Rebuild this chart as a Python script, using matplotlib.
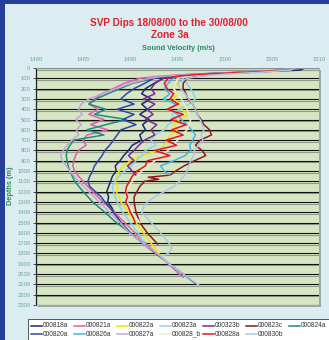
import matplotlib
matplotlib.use("Agg")
import matplotlib.pyplot as plt
import matplotlib.patheffects as pe
from matplotlib.patches import Rectangle
from matplotlib.lines import Line2D

plt.rcParams['font.family'] = ['Liberation Sans', 'DejaVu Sans']

# ---------------- data ----------------
names = ["000818a", "000821a", "000822a", "000823a", "000323b", "000823c", "000824a",
         "000820a", "000826a", "000827a", "000828_b", "000828a", "000830b"]
colors = ["#1c2772", "#de5fae", "#f2e400", "#8fd2e8", "#7a2b8e", "#8e1a1f", "#1a8c82",
          "#2d47a8", "#3fb6e8", "#c9a3d8", "#e9efcf", "#e8151f", "#a9c9ea"]

d_818a = [0, 20, 40, 60, 80, 100, 150, 200, 250, 300, 350, 400, 450, 500, 550, 600, 650, 700,
          750, 800, 850, 900, 950, 1000, 1050, 1100, 1150, 1200, 1250, 1300, 1350, 1400,
          1500, 1600, 1700, 1800, 1900, 2000, 2090]
v_818a = [1508.5, 1508, 1503, 1498, 1495, 1493.5, 1492.5, 1491.6, 1491.2, 1492.2, 1491.2, 1491.8,
          1491.0, 1492.0, 1491.3, 1491.6, 1491.0, 1491.2, 1490.2, 1489.8, 1489.3, 1488.9, 1488.4,
          1488.5, 1488.1, 1487.9, 1487.7, 1487.5, 1487.7, 1487.6, 1488.0, 1488.3,
          1489.0, 1490.0, 1491.3, 1492.7, 1494.1, 1495.6, 1496.9]

d_821a = [0, 20, 40, 60, 80, 100, 150, 200, 250, 300, 350, 400, 450, 500, 550, 600, 650, 700,
          750, 800, 850, 900, 950, 1000, 1050, 1100, 1200, 1300, 1400, 1500, 1600, 1700, 1800,
          1900, 2000, 2030]
v_821a = [1507, 1506.3, 1502, 1496.5, 1493, 1491, 1489.3, 1488.2, 1487, 1486.2, 1485.6, 1486.6,
          1485.6, 1487.2, 1485.8, 1487.6, 1485.4, 1485.0, 1485.3, 1484.5, 1484.2, 1484.0, 1483.9,
          1484.1, 1484.5, 1485.0, 1486.0, 1487.1, 1488.3, 1489.4, 1490.5, 1491.6, 1492.8,
          1494.0, 1495.2, 1495.6]

d_822a = [0, 20, 40, 60, 80, 100, 150, 200, 250, 300, 350, 400, 450, 500, 550, 600, 650, 700,
          750, 800, 850, 900, 950, 1000, 1050, 1100, 1150, 1200, 1250, 1300,
          1400, 1500, 1600, 1700, 1800, 1880]
v_822a = [1507, 1506.2, 1502.5, 1497.5, 1495.5, 1495.0, 1495.0, 1494.6, 1495.0, 1494.6, 1495.2,
          1495.4, 1496.2, 1495.2, 1494.6, 1495.0, 1494.2, 1494.0, 1493.6, 1493.0, 1491.2, 1490.0,
          1489.3, 1488.8, 1488.6, 1488.4, 1488.7, 1488.5, 1488.8, 1489.0,
          1489.8, 1490.6, 1491.4, 1492.2, 1493.0, 1493.8]

d_823a = [0, 20, 40, 60, 80, 100, 150, 200, 250, 300, 350, 400, 450, 500, 550, 600, 650, 700,
          750, 800, 850, 900, 950, 1000, 1050, 1100, 1150, 1200, 1300, 1400, 1500, 1600, 1700]
v_823a = [1507, 1506.2, 1503, 1498, 1496, 1495.5, 1496.0, 1496.4, 1496.7, 1496.9, 1496.2, 1495.2,
          1494.4, 1494.9, 1494.0, 1493.6, 1492.6, 1492.2, 1492.7, 1491.6, 1491.2, 1490.6, 1490.1,
          1489.4, 1488.8, 1488.4, 1488.1, 1488.2, 1488.6, 1489.2, 1490.0, 1490.8, 1491.5]

d_323b = [0, 20, 40, 60, 80, 100, 150, 200, 250, 300, 350, 400, 450, 500, 550, 600, 650, 700,
          750, 800, 850, 900, 950, 1000, 1040]
v_323b = [1507, 1506.5, 1503, 1498, 1495, 1493.5, 1492.6, 1492.2, 1492.6, 1491.4, 1492.6, 1491.8,
          1492.4, 1491.6, 1492.8, 1492.2, 1492.6, 1491.5, 1490.9, 1490.4, 1489.8, 1490.4, 1489.7,
          1490.2, 1490.6]

d_823c = [0, 20, 40, 60, 80, 100, 150, 200, 250, 300, 350, 400, 450, 500, 550, 600, 650, 700,
          750, 800, 850, 900, 950, 1000, 1040, 1060, 1080, 1100, 1150, 1200, 1250, 1300, 1400,
          1500, 1600, 1650, 1710]
v_823c = [1507, 1506.5, 1503, 1499, 1497, 1496, 1495.6, 1495.6, 1495.9, 1496.1, 1496.6, 1496.9,
          1497.1, 1497.5, 1497.8, 1498.4, 1498.6, 1497.4, 1496.9, 1497.6, 1498.0, 1496.8, 1495.7,
          1494.8, 1494.2, 1491.9, 1493.0, 1491.5, 1491.0, 1490.7, 1490.4, 1490.4, 1490.6,
          1491.0, 1491.8, 1492.3, 1492.9]

d_824a = [0, 20, 40, 60, 80, 100, 150, 200, 250, 300, 350, 400, 450, 500, 550, 600, 650, 700,
          750, 800, 850, 900, 950, 1000, 1100, 1200, 1300, 1400, 1500, 1600, 1670]
v_824a = [1507, 1506.5, 1502, 1497, 1494, 1492.5, 1490.2, 1488.9, 1487.6, 1486.4, 1485.6, 1487.4,
          1486.2, 1489.6, 1487.4, 1485.4, 1487.2, 1484.0, 1483.6, 1483.3, 1483.2, 1483.3, 1483.4,
          1483.6, 1484.1, 1485.0, 1486.0, 1487.3, 1488.5, 1490.0, 1490.9]

d_820a = [0, 20, 40, 60, 80, 100, 150, 200, 250, 300, 350, 400, 450, 500, 550, 600, 650, 700,
          750, 800, 850, 900, 950, 1000, 1050, 1100, 1150, 1200, 1250, 1300, 1350, 1400,
          1500, 1600]
v_820a = [1507, 1506.5, 1502.5, 1497, 1494, 1492.5, 1491.5, 1490.4, 1489.6, 1489.0, 1490.4, 1488.6,
          1490.4, 1489.2, 1490.6, 1489.0, 1488.6, 1488.2, 1487.8, 1487.3, 1487.0, 1486.6, 1486.2,
          1486.0, 1485.7, 1485.5, 1485.7, 1486.3, 1486.9, 1487.3, 1487.8, 1488.2,
          1489.0, 1490.0]

d_826a = [0, 20, 40, 60, 80, 100, 150, 200, 250, 300, 350, 400, 450, 500, 550, 600, 650, 700,
          750, 800, 850, 900, 950, 1000, 1040]
v_826a = [1507, 1506.5, 1503, 1498, 1495.5, 1494.5, 1494.0, 1493.6, 1494.2, 1493.5, 1494.8, 1494.2,
          1495.0, 1495.4, 1496.0, 1496.5, 1496.9, 1496.6, 1496.3, 1496.4, 1495.8, 1494.6, 1493.2,
          1493.6, 1494.2]

d_827a = [0, 20, 40, 60, 80, 100, 150, 200, 250, 300, 350, 400, 450, 500, 550, 600, 650, 700,
          750, 800, 850, 900, 950, 1000, 1100, 1200, 1300, 1400, 1500, 1600, 1700, 1800, 1860]
v_827a = [1507, 1506, 1502, 1496.5, 1493.5, 1492, 1490.0, 1488.5, 1487.0, 1485.6, 1484.8, 1484.5,
          1484.9, 1484.2, 1484.8, 1484.3, 1484.5, 1483.8, 1483.3, 1482.9, 1482.6, 1482.8, 1483.2,
          1483.6, 1484.5, 1485.6, 1486.7, 1487.8, 1488.9, 1489.9, 1491.3, 1492.8, 1493.7]

d_828b = [0, 20, 40, 60, 80, 100, 200, 300, 400, 500, 600, 700, 800, 900, 1000, 1100, 1200,
          1300, 1400, 1500]
v_828b = [1507, 1506.3, 1502.8, 1498, 1496, 1495, 1494.6, 1495.4, 1496.0, 1496.4, 1496.0, 1495.0,
          1494.0, 1492.6, 1491.2, 1490.2, 1489.6, 1489.7, 1490.2, 1491.0]

d_828a = [0, 20, 40, 60, 80, 100, 150, 200, 250, 300, 350, 400, 450, 500, 550, 600, 650, 700,
          750, 800, 850, 900, 950, 1000, 1050, 1100, 1150, 1200, 1250, 1300, 1350, 1400, 1450, 1500]
v_828a = [1507, 1506.5, 1502.5, 1497.5, 1495, 1494, 1493.6, 1493.9, 1494.6, 1494.2, 1495.1, 1493.9,
          1495.6, 1494.3, 1495.9, 1494.4, 1495.6, 1493.8, 1494.9, 1492.6, 1494.2, 1491.8, 1491.6,
          1490.7, 1490.2, 1489.9, 1489.6, 1489.5, 1489.7, 1489.5, 1489.8, 1490.0, 1490.3, 1490.5]

d_830b = [0, 20, 40, 60, 80, 100, 150, 200, 250, 300, 350, 400, 450, 500, 550, 600, 650, 700,
          750, 800, 850, 900, 950, 1000, 1050, 1100, 1150, 1200, 1250, 1300, 1350, 1400,
          1500, 1600, 1700, 1750, 1800, 1830, 1880, 1900, 2000, 2110]
v_830b = [1507.5, 1507, 1504, 1500, 1497.5, 1496, 1495.0, 1495.3, 1495.8, 1496.2, 1496.6, 1496.9,
          1497.1, 1497.4, 1497.6, 1497.8, 1497.5, 1497.7, 1497.2, 1496.8, 1496.7, 1496.4, 1496.2,
          1496.0, 1495.7, 1495.2, 1494.6, 1493.6, 1492.6, 1491.8, 1491.4, 1491.2,
          1492.2, 1493.2, 1494.1, 1494.4, 1494.0, 1493.3, 1493.8, 1494.1, 1495.6, 1497.3]

depths = [d_818a, d_821a, d_822a, d_823a, d_323b, d_823c, d_824a,
          d_820a, d_826a, d_827a, d_828b, d_828a, d_830b]
velocities = [v_818a, v_821a, v_822a, v_823a, v_323b, v_823c, v_824a,
              v_820a, v_826a, v_827a, v_828b, v_828a, v_830b]

x_ticks = [1480, 1485, 1490, 1495, 1500, 1505, 1510]
y_ticks = [0, 100, 200, 300, 400, 500, 600, 700, 800, 900, 1000, 1100, 1200, 1300, 1400,
           1500, 1600, 1700, 1800, 1900, 2000, 2100, 2200, 2300]

title1 = "SVP Dips 18/08/00 to the 30/08/00"
title2 = "Zone 3a"
xlabel = "Sound Velocity (m/s)"
ylabel = "Depths (m)"

# ---------------- figure ----------------
W, H = 329, 340
fig = plt.figure(figsize=(W / 100, H / 100), dpi=100)
fig.patch.set_facecolor("#dcedf2")

def fx(px):
    return px / W

def fy(py):
    return 1 - py / H

# slide border strips
fig.patches.append(Rectangle((0, 0), fx(5), 1, transform=fig.transFigure,
                             facecolor="#26409a", edgecolor="none", zorder=0))
fig.patches.append(Rectangle((0, fy(4)), 1, 4 / H, transform=fig.transFigure,
                             facecolor="#26409a", edgecolor="none", zorder=0))

ax_l, ax_r, ax_t, ax_b = 36, 319, 68, 305
# shadow behind the plot area
fig.patches.append(Rectangle((fx(ax_l + 2), fy(ax_b + 2)), (ax_r - ax_l) / W, (ax_b - ax_t) / H,
                             transform=fig.transFigure, facecolor="#9aa8a8",
                             edgecolor="none", zorder=0.5))

ax = fig.add_axes([fx(ax_l), fy(ax_b), (ax_r - ax_l) / W, (ax_b - ax_t) / H])
ax.set_zorder(2)
ax.set_facecolor("#d7e6c2")
ax.set_xlim(1480, 1510)
ax.set_ylim(2300, 0)

for d, v, c in zip(depths, velocities, colors):
    ax.plot(v, d, color=c, lw=1.1, solid_joinstyle="round")

ax.set_yticks(y_ticks)
ax.set_yticklabels([str(t) for t in y_ticks])
ax.set_xticks(x_ticks)
ax.set_xticklabels([str(t) for t in x_ticks])
ax.xaxis.tick_top()
ax.tick_params(axis="x", length=0, pad=4, labelsize=4.2, labelcolor="#6aa98c")
ax.tick_params(axis="y", length=2.5, width=0.6, pad=1.5, labelsize=4.2,
               labelcolor="#6aa98c", color="#333333")

ax.grid(axis="y", color="#111111", lw=0.8)
ax.set_axisbelow(True)
for gl in ax.get_ygridlines():
    gl.set_path_effects([pe.SimpleLineShadow(offset=(0, -1.2), shadow_color="#777777", alpha=0.7),
                         pe.Normal()])

for s in ["top", "right", "bottom"]:
    ax.spines[s].set_color("#9aa8a8")
    ax.spines[s].set_linewidth(0.6)
ax.spines["left"].set_color("#222222")
ax.spines["left"].set_linewidth(0.9)

# titles
fig.text(fx(169), fy(23), title1, ha="center", va="center", color="#e0202c",
         fontsize=7.2, fontweight="bold")
fig.text(fx(170), fy(35.5), title2, ha="center", va="center", color="#e0202c",
         fontsize=7.2, fontweight="bold")
fig.text(fx(178), fy(48), xlabel, ha="center", va="center", color="#2e8a5a",
         fontsize=5.3, fontweight="bold")
fig.text(fx(11), fy(186), ylabel, ha="center", va="center", color="#2e8a5a",
         fontsize=5.3, fontweight="bold", rotation=90)

# legend box (manual)
fig.patches.append(Rectangle((fx(28), fy(345)), (340 - 28) / W, (345 - 319) / H,
                             transform=fig.transFigure, facecolor="white",
                             edgecolor="#555555", lw=0.7, zorder=1))
col_x = [31, 74, 117, 160, 203, 246, 289]
row_y = [325.5, 334]
for i, (name, c) in enumerate(zip(names, colors)):
    r, k = divmod(i, 7)
    x0 = col_x[k]
    y0 = row_y[r]
    fig.lines.append(Line2D([fx(x0), fx(x0 + 11)], [fy(y0), fy(y0)],
                            transform=fig.transFigure, color=c, lw=1.1, zorder=2))
    fig.text(fx(x0 + 11.5), fy(y0), name, ha="left", va="center", fontsize=4.8,
             color="#333333", zorder=3)

fig.savefig("out.png", dpi=100, facecolor=fig.get_facecolor())
